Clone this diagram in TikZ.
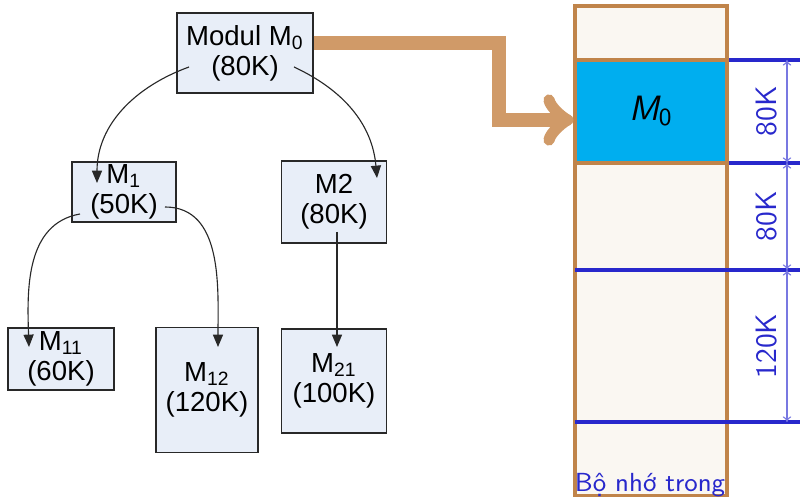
\documentclass[tikz,border=0pt]{standalone}
\usepackage{fontspec}
\setmainfont{Liberation Sans}
\usepackage{tikz}
\usetikzlibrary{arrows.meta, positioning, calc}
\definecolor{moddark}{RGB}{40,40,40}
\definecolor{modfill}{RGB}{232,238,248}
\definecolor{membrown}{RGB}{192,132,74}
\definecolor{memfill}{RGB}{250,247,242}
\definecolor{memcyan}{RGB}{0,174,239}
\definecolor{memblue}{RGB}{40,40,204}
\definecolor{dimblue}{RGB}{120,120,225}
\definecolor{loadtan}{RGB}{208,154,104}
\tikzset{
  modul/.style={rectangle, draw=moddark, fill=modfill, align=center,
    font=\fontsize{9.8}{10.6}\selectfont, inner sep=0pt, line width=0.5pt},
  call/.style={-{Triangle[length=4.4pt,width=3.6pt]}, line width=0.4pt, color=moddark},
  memcol/.style={draw=membrown, fill=memfill, line width=1.1pt},
  memblock/.style={rectangle, draw=membrown, fill=memcyan, line width=1.1pt,
    minimum width=1.9cm, minimum height=1.2875cm,
    font=\sffamily\fontsize{12.5}{14}\selectfont},
  memline/.style={draw=memblue, line width=1.2pt},
  dimline/.style={{To[length=2pt,width=3pt]}-{To[length=2pt,width=3pt]}, draw=dimblue, line width=0.4pt},
  dimlabel/.style={rotate=90, text=memblue, font=\sffamily\fontsize{10.5}{12}\selectfont},
  bigarrow/.style={-{to[scale=1.15]}, line width=5pt, color=loadtan, line join=miter}
}
\begin{document}
\begin{tikzpicture}[x=0.0125cm, y=-0.0125cm]
  \useasboundingbox (0,0) rectangle (800,497);

  % Module tree
  \node[modul, minimum width=1.7cm, minimum height=1.0cm] (m0) at (245,53) {Modul M\textsubscript{0}\\(80K)};
  \node[modul, minimum width=1.3cm, minimum height=0.75cm] (m1) at (124,192) {M\textsubscript{1}\\(50K)};
  \node[modul, minimum width=1.3125cm, minimum height=1.025cm] (m2) at (334,202) {M2\\(80K)};
  \node[modul, minimum width=1.325cm, minimum height=0.775cm] (m11) at (61,359) {M\textsubscript{11}\\(60K)};
  \node[modul, minimum width=1.275cm, minimum height=1.5625cm] (m12) at (207,390) {M\textsubscript{12}\\(120K)};
  \node[modul, minimum width=1.3125cm, minimum height=1.3cm] (m21) at (334,381) {M\textsubscript{21}\\(100K)};

  % Calls between modules
  \draw[call] ($(m0)+(-56,14)$) to[out=200, in=90] ($(m1)+(-27,-9)$);
  \draw[call] ($(m0)+(49,14)$) to[out=-25, in=95] ($(m2)+(43,-24)$);
  \draw[call] ($(m1)+(-44,22)$) to[out=190, in=92] ($(m11)+(-32,-12)$);
  \draw[call] ($(m1)+(41,15)$) to[out=0, in=90] ($(m12)+(11,-43)$);
  \draw[call] ($(m2)+(3,30)$) -- ($(m21)+(3,-34)$);

  % Main memory
  \draw[memcol] (575,6) rectangle (727,496);
  \foreach \y in {60,163,270,422}
    \draw[memline] (575,\y) -- (800,\y);
  \node[memblock] (mem0) at (651,111.5) {\itshape M\textsubscript{\upshape 0}};
  \foreach \a/\b/\t in {60/163/80K, 163/270/80K, 270/422/120K} {
    \draw[dimline] (787,\a) -- (787,\b);
    \node[dimlabel] at (767,{(\a+\b)/2}) {\t};
  }
  \node[text=memblue, font=\sffamily\fontsize{9.3}{11}\selectfont] (memname) at (650,485) {Bộ nhớ trong};

  % Loading M0 into memory
  \coordinate (turn) at (499,120);
  \draw[bigarrow] ($(m0.east)+(0,-10)$) -| (turn) -- (turn -| mem0.west);
\end{tikzpicture}
\end{document}
